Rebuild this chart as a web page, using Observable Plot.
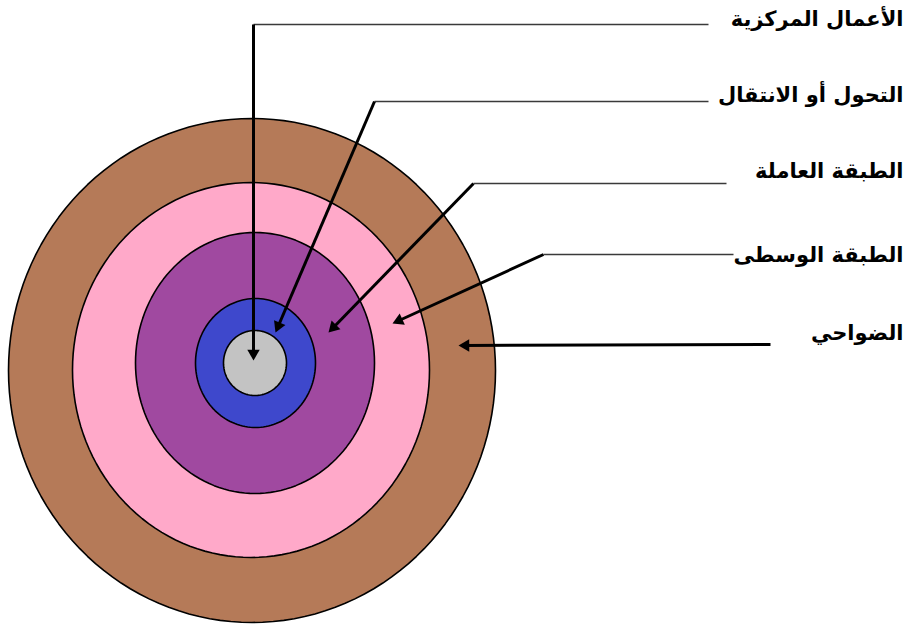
<!DOCTYPE html>
<html>
<head>
<meta charset="utf-8">
<script src="https://cdn.jsdelivr.net/npm/d3@7"></script>
<script src="https://cdn.jsdelivr.net/npm/@observablehq/plot@0.6"></script>
<style>
  html, body { margin: 0; padding: 0; background: #ffffff; }
  #chart svg { display: block; }
</style>
</head>
<body>
<div id="chart"></div>
<script>
// Zones, outermost first
const zoneNames = ["الضواحي", "الطبقة الوسطى", "الطبقة العاملة", "التحول أو الانتقال", "الأعمال المركزية"];
const zoneColors = ["#B57A58", "#FFA9C9", "#A049A0", "#3E48CC", "#C3C3C3"];
const zoneCenterX = [251.5, 250.5, 254.5, 255, 254.5];
const zoneCenterY = [370, 369.5, 362.5, 362.5, 362.5];
const zoneRadiusX = [243.5, 178.5, 119.5, 60, 31.5];
const zoneRadiusY = [252, 187.5, 130.5, 64.5, 32.5];

// Labels, top to bottom (central business -> suburbs)
const labelTexts = ["الأعمال المركزية", "التحول أو الانتقال", "الطبقة العاملة", "الطبقة الوسطى", "الضواحي"];
const labelY = [19, 95, 171, 255, 333];
// Leader lines: label end -> elbow -> arrow tip
const leaderEndX = [708, 708, 726, 733, 770];
const leaderY = [24, 101, 183, 254, 344];
const leaderElbowX = [253, 374, 473, 543, 770];
const tipX = [253, 275, 328, 392, 458];
const tipY = [360, 332, 332, 323, 345];

const W = 906, H = 628;

// ring outlines sampled along each ellipse
const rings = zoneNames.map((name, i) =>
  d3.range(0, 144).map(k => {
    const t = (k / 144) * 2 * Math.PI;
    return {zone: name, x: zoneCenterX[i] + zoneRadiusX[i] * Math.cos(t), y: zoneCenterY[i] + zoneRadiusY[i] * Math.sin(t)};
  })
);

const horizontals = labelTexts.map((t, i) => ({x1: leaderEndX[i], y1: leaderY[i], x2: leaderElbowX[i], y2: leaderY[i]}));
const diagonals = labelTexts.map((t, i) => ({x1: leaderElbowX[i], y1: leaderY[i], x2: tipX[i], y2: tipY[i]}));

const headR = 4.6;
const heads = diagonals.map(d => {
  const dx = d.x2 - d.x1, dy = d.y2 - d.y1;
  const len = Math.hypot(dx, dy);
  const ux = dx / len, uy = dy / len;
  const off = 1.555 * headR;
  return {x: d.x2 - ux * off, y: d.y2 - uy * off, angle: Math.atan2(dx, -dy) * 180 / Math.PI};
});
// shorten shaft so it ends inside the head
const shafts = diagonals.map(d => {
  const dx = d.x2 - d.x1, dy = d.y2 - d.y1;
  const len = Math.hypot(dx, dy);
  return {x1: d.x1, y1: d.y1, x2: d.x2 - dx / len * 6, y2: d.y2 - dy / len * 6};
});

const labels = labelTexts.map((t, i) => ({text: t, x: 903, y: labelY[i]}));

const chart = Plot.plot({
  width: W,
  height: H,
  margin: 0,
  x: {domain: [0, W], range: [0, W], axis: null},
  y: {domain: [0, H], range: [0, H], axis: null},
  style: {background: "#ffffff"},
  marks: [
    ...rings.map((pts, i) => Plot.line(pts, {x: "x", y: "y", curve: "linear-closed", fill: zoneColors[i], stroke: "#000000", strokeWidth: 1.6})),
    Plot.link(horizontals.slice(0, 4), {x1: "x1", y1: "y1", x2: "x2", y2: "y2", stroke: "#3a3a3a", strokeWidth: 1.6}),
    Plot.link(shafts, {x1: "x1", y1: "y1", x2: "x2", y2: "y2", stroke: "#000000", strokeWidth: 3, strokeLinecap: "butt"}),
    Plot.dot(heads, {x: "x", y: "y", symbol: "triangle", r: headR, rotate: "angle", fill: "#000000", stroke: "none"}),
    Plot.text(labels, {x: "x", y: "y", text: "text", textAnchor: "end", fontSize: 21, fontWeight: "bold", fontFamily: "DejaVu Sans, Arial, sans-serif", fill: "#000000"})
  ]
});
document.getElementById("chart").appendChild(chart);
</script>
</body>
</html>
